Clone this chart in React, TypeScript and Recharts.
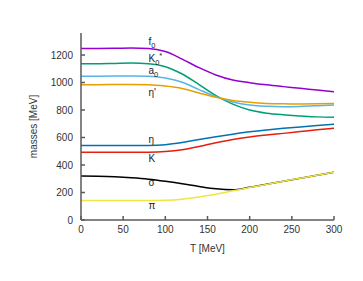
import React from 'react'
import { LineChart, Line, XAxis, YAxis, ReferenceDot } from 'recharts'

const temps = [0, 20, 40, 60, 80, 100, 120, 140, 160, 180, 200, 220, 240, 260, 280, 300]
const f0 = [1248, 1248, 1249, 1251, 1248, 1225, 1170, 1108, 1055, 1018, 999, 983, 970, 958, 945, 933]
const kappa = [1137, 1137, 1139, 1141, 1136, 1115, 1062, 985, 905, 843, 800, 777, 765, 757, 750, 747]
const a0 = [1045, 1046, 1047, 1048, 1046, 1032, 1002, 948, 897, 858, 836, 827, 824, 826, 831, 837]
const etaPrime = [984, 984, 985, 986, 984, 974, 956, 923, 892, 869, 856, 848, 845, 844, 845, 847]
const eta = [541, 541, 541, 541, 542, 548, 564, 586, 606, 624, 641, 655, 667, 677, 687, 696]
const kaon = [492, 492, 492, 492, 493, 498, 511, 534, 562, 586, 604, 618, 630, 643, 656, 667]
const sigma = [320, 318, 314, 307, 297, 282, 264, 244, 227, 220, 238, 260, 282, 304, 326, 347]
const pion = [141, 141, 141, 141, 141, 143, 151, 168, 188, 212, 236, 259, 282, 304, 326, 347]

const xTicks = [0, 50, 100, 150, 200, 250, 300]
const yTicks = [0, 200, 400, 600, 800, 1000, 1200]

// label anchors: [main text, subscript, superscript, T, mass]
const labels: [string, string, string, number, number][] = [
  ['f', '0', '', 80, 1300],
  ['K', '0', '*', 80, 1172],
  ['a', '0', '', 80, 1090],
  ["η'", '', '', 80, 930],
  ['η', '', '', 80, 585],
  ['K', '', '', 80, 445],
  ['σ', '', '', 80, 270],
  ['π', '', '', 80, 102],
]

const series = [
  { key: 'f0', values: f0, color: '#9400d3' },
  { key: 'kappa', values: kappa, color: '#009e73' },
  { key: 'a0', values: a0, color: '#56b4e9' },
  { key: 'etaPrime', values: etaPrime, color: '#e69f00' },
  { key: 'eta', values: eta, color: '#0072b2' },
  { key: 'kaon', values: kaon, color: '#e51e10' },
  { key: 'sigma', values: sigma, color: '#000000' },
  { key: 'pion', values: pion, color: '#f0e442' },
]

const data = temps.map((T, i) => {
  const row: Record<string, number> = { T }
  series.forEach(s => { row[s.key] = s.values[i] })
  return row
})

const font = 'Liberation Sans, Arial, sans-serif'
const axisColor = '#5a5a5a'

const makeLabel = (main: string, sub: string, sup: string) => (props: any) => {
  const { x, y } = props.viewBox
  return (
    <text x={x} y={y} dy="0.35em" fontSize={10} fontFamily={font} fill="#222"
      style={{ fill: '#222', stroke: 'none' }}>
      <tspan>{main}</tspan>
      {sub && <tspan dy={3} fontSize={7.5}>{sub}</tspan>}
      {sup && <tspan dy={-7} fontSize={7.5}>{sup}</tspan>}
    </text>
  )
}

export default function App() {
  const tick = { fontSize: 10, fontFamily: font, fill: '#333' }
  return (
    <div style={{ position: 'absolute', left: 0, top: 0 }}>
      <LineChart width={363} height={281} data={data}
        margin={{ top: 33, right: 29, bottom: 31, left: 21 }}>
        <XAxis dataKey="T" type="number" domain={[0, 300]} ticks={xTicks}
          height={30} tickSize={-4} tickMargin={10} tick={tick}
          stroke={axisColor} strokeWidth={1.5} interval={0}
          label={{ value: 'T [MeV]', position: 'center', dy: 13, fontSize: 10, fontFamily: font, fill: '#333' }} />
        <XAxis xAxisId="top" orientation="top" dataKey="T" type="number" domain={[0, 300]}
          ticks={xTicks} height={0} tickSize={-4} tickFormatter={() => ''} stroke={axisColor} />
        <YAxis type="number" domain={[0, 1360]} ticks={yTicks} width={60}
          tickSize={-4} tickMargin={12} tick={tick} stroke={axisColor} strokeWidth={1.5} interval={0}
          label={{ value: 'masses [MeV]', angle: -90, position: 'center', dx: -18, fontSize: 10, fontFamily: font, fill: '#333' }} />
        <YAxis yAxisId="right" orientation="right" type="number" domain={[0, 1360]}
          ticks={yTicks} width={0} tickSize={-4} tickFormatter={() => ''} stroke={axisColor} strokeWidth={1.5} />
        {series.map(s => (
          <Line key={s.key} type="monotone" dataKey={s.key} stroke={s.color}
            strokeWidth={1.5} dot={false} isAnimationActive={false} />
        ))}
        {labels.map(([main, sub, sup, t, m], i) => (
          <ReferenceDot key={i} x={t} y={m} r={0} fill="none" stroke="none"
            label={makeLabel(main, sub, sup)} />
        ))}
      </LineChart>
    </div>
  )
}
